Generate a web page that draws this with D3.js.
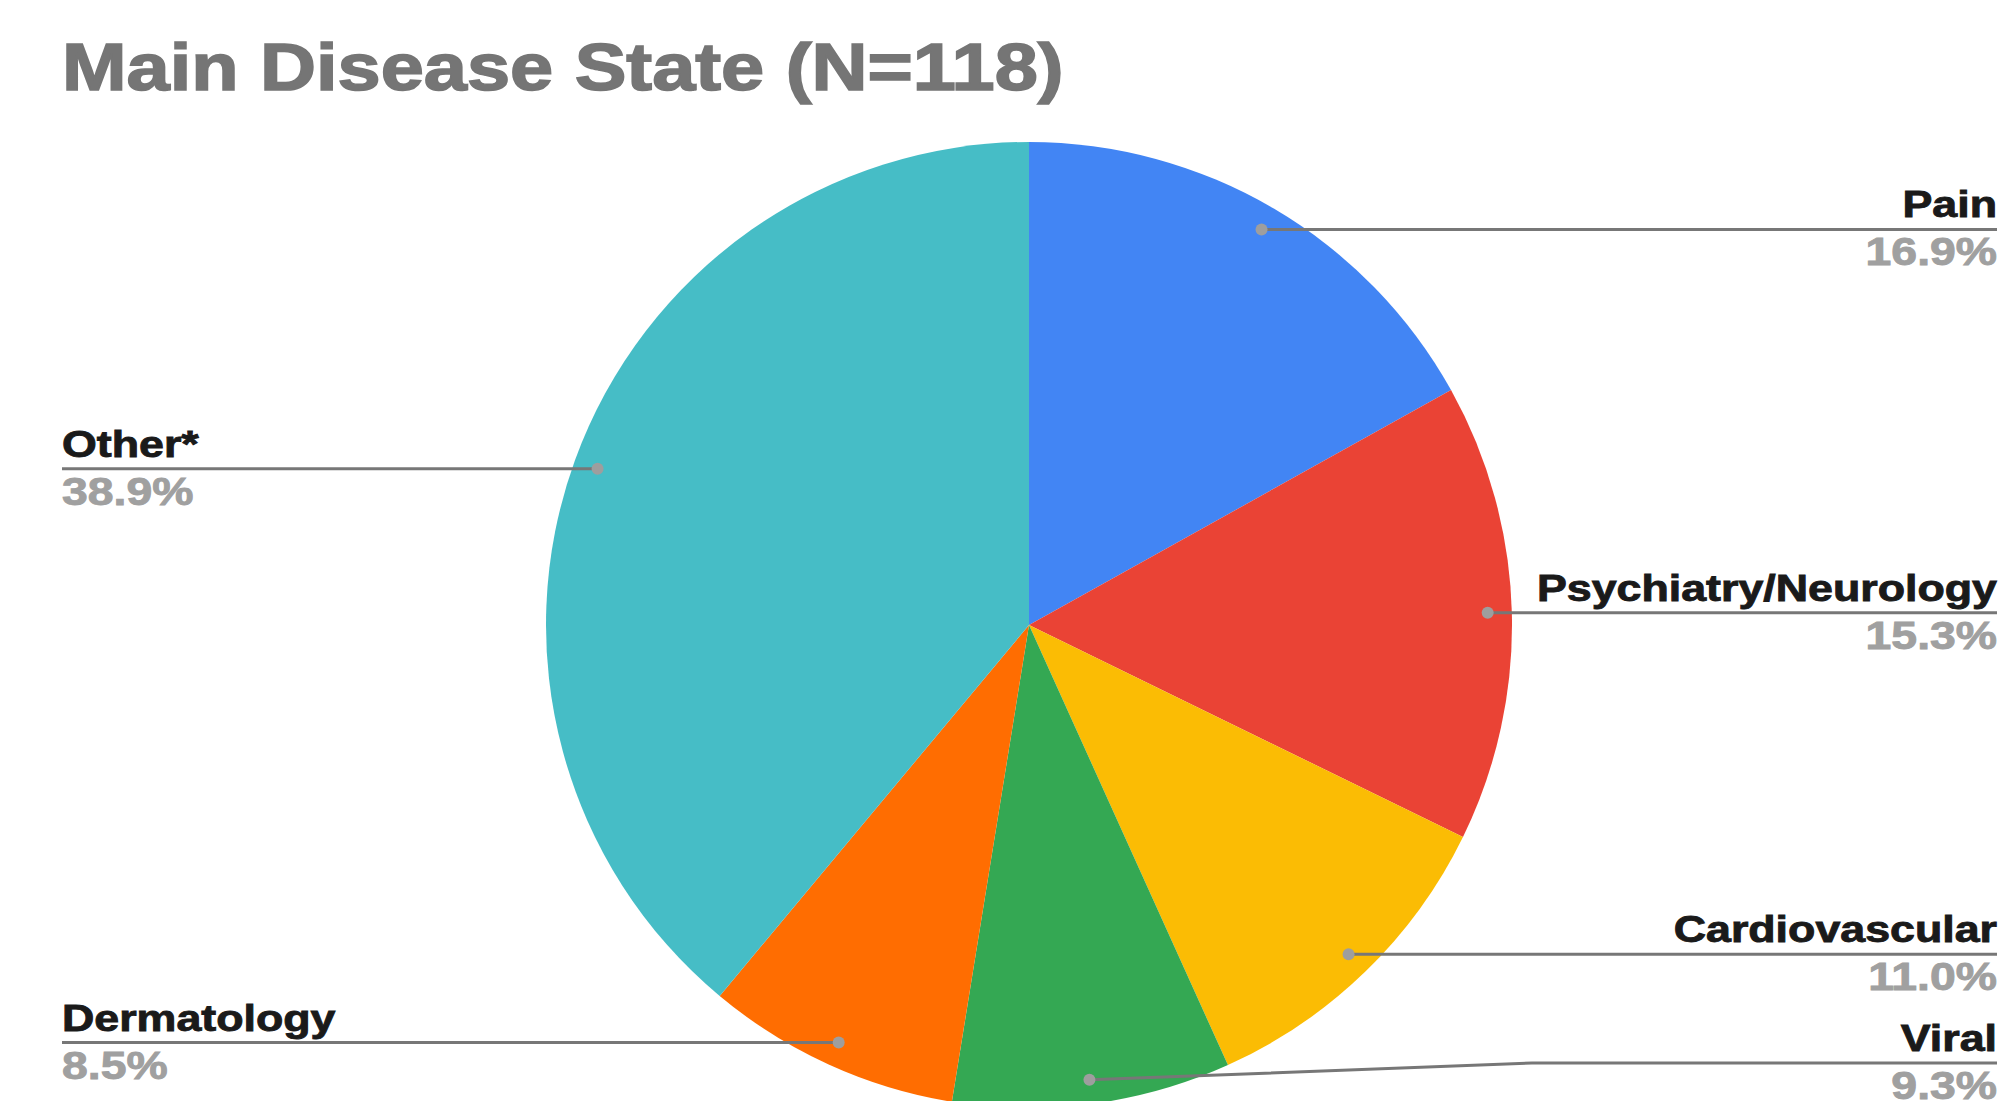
<!DOCTYPE html>
<html>
<head>
<meta charset="utf-8">
<script src="https://cdn.jsdelivr.net/npm/d3@7"></script>
<style>
  body { margin: 0; background: #ffffff; }
  text { font-family: "Liberation Sans", Arial, sans-serif; font-weight: bold; }
</style>
</head>
<body>
<div id="chart"></div>
<script>
// Dữ liệu
const categories = ["Pain", "Psychiatry/Neurology", "Cardiovascular", "Viral", "Dermatology", "Other*"];
const percents = [16.9, 15.3, 11.0, 9.3, 8.5, 38.9];
const sliceColors = ["#4285f4", "#ea4335", "#fbbc04", "#34a853", "#ff6d01", "#46bdc6"];
const chartTitle = "Main Disease State (N=118)";

const width = 2011;
const height = 1101;
const cx = 1029, cy = 625, radius = 483;
const leftX = 62, rightX = 1997;
const labelBottom = 1063; // nhãn không được xuống thấp hơn
const stretch = 1.21;     // chữ gốc hơi kéo rộng

const chartData = categories.map((c, i) => ({ label: c, value: percents[i], color: sliceColors[i] }));

const svg = d3.select("#chart")
    .append("svg")
    .attr("width", width)
    .attr("height", height)
    .style("display", "block");

svg.append("rect").attr("width", width).attr("height", height).attr("fill", "#ffffff");

// Tiêu đề
svg.append("text")
    .attr("transform", `translate(62, 90) scale(1.157, 1)`)
    .style("font-size", "67px")
    .style("fill", "#757575")
    .style("stroke", "#757575")
    .style("stroke-width", "1.6px")
    .text(chartTitle);

const pie = d3.pie().sort(null).value(d => d.value);
const arcs = pie(chartData);

const arc = d3.arc().innerRadius(0).outerRadius(radius);
const dotArc = d3.arc().innerRadius(radius * 0.95).outerRadius(radius * 0.95);

const g = svg.append("g").attr("transform", `translate(${cx},${cy})`);

// Vẽ các lát bánh
g.selectAll(".slice")
    .data(arcs)
    .enter()
    .append("path")
    .attr("class", "slice")
    .attr("d", arc)
    .attr("fill", d => d.data.color);

// Tính vị trí nhãn
const labels = arcs.map(d => {
    const [dx, dy] = dotArc.centroid(d);
    const right = dx > 0;
    const lineY = Math.min(cy + dy, labelBottom);
    return { d, x: cx + dx, y: cy + dy, lineY, right };
});

// Đường dẫn nhãn
svg.selectAll(".leader")
    .data(labels)
    .enter()
    .append("path")
    .attr("class", "leader")
    .attr("fill", "none")
    .attr("stroke", "#777777")
    .attr("stroke-width", 3)
    .attr("d", l => {
        const p = d3.path();
        p.moveTo(l.x, l.y);
        if (l.right) {
            if (l.lineY !== l.y) p.lineTo(cx + radius + 20, l.lineY);
            p.lineTo(rightX, l.lineY);
        } else {
            if (l.lineY !== l.y) p.lineTo(cx - radius - 20, l.lineY);
            p.lineTo(leftX, l.lineY);
        }
        return p.toString();
    });

svg.selectAll(".dot")
    .data(labels)
    .enter()
    .append("circle")
    .attr("class", "dot")
    .attr("cx", l => l.x)
    .attr("cy", l => l.y)
    .attr("r", 6)
    .attr("fill", "#9e9e9e");

// Tên nhóm
svg.selectAll(".name")
    .data(labels)
    .enter()
    .append("text")
    .attr("class", "name")
    .attr("transform", l => `translate(${l.right ? rightX : leftX}, ${l.lineY - 12}) scale(${stretch}, 1)`)
    .attr("text-anchor", l => l.right ? "end" : "start")
    .style("font-size", "37px")
    .style("fill", "#1a1a1a")
    .style("stroke", "#1a1a1a")
    .style("stroke-width", "0.9px")
    .text(l => l.d.data.label);

// Phần trăm
svg.selectAll(".pct")
    .data(labels)
    .enter()
    .append("text")
    .attr("class", "pct")
    .attr("transform", l => `translate(${l.right ? rightX : leftX}, ${l.lineY + 36}) scale(1.22, 1)`)
    .attr("text-anchor", l => l.right ? "end" : "start")
    .style("font-size", "38px")
    .style("fill", "#a0a0a0")
    .style("stroke", "#a0a0a0")
    .style("stroke-width", "0.9px")
    .text(l => `${l.d.data.value.toFixed(1)}%`);
</script>
</body>
</html>
